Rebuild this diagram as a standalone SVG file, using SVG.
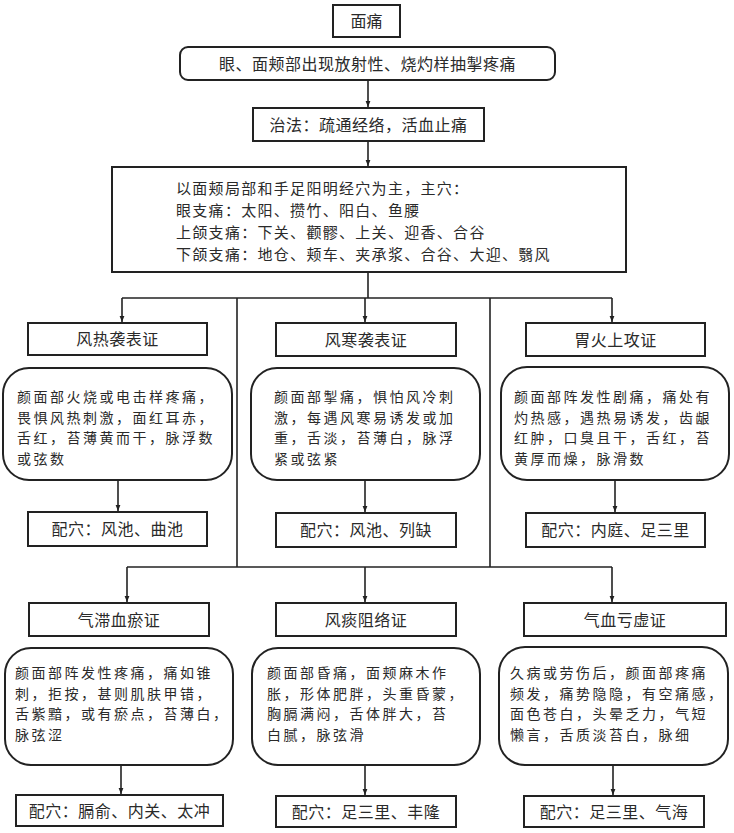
<svg xmlns="http://www.w3.org/2000/svg" width="734" height="833" viewBox="0 0 734 833">
<defs>
<marker id="ah" viewBox="0 0 10 10" refX="10" refY="5" markerWidth="6" markerHeight="9" orient="auto" markerUnits="userSpaceOnUse">
<path d="M0,1 L10,5 L0,9 Z" fill="#222"/>
</marker>
<style>
rect{fill:#fff;stroke:#222;stroke-width:2}
text{font-family:"Noto Sans CJK SC","Noto Sans CJK JP",sans-serif;font-size:16px;fill:#2a2a2a}
.c{text-anchor:middle}
.b{letter-spacing:0.5px}
.m{font-size:14px;letter-spacing:2.5px}
.p{font-size:15px;letter-spacing:1.3px}
.ln{fill:none;stroke:#222;stroke-width:1.6}
.ar{fill:none;stroke:#222;stroke-width:1.6;marker-end:url(#ah)}
</style>
</defs>
<rect x="0" y="0" width="734" height="833" style="fill:#fff;stroke:none"/>
<g id="connectors">
<line class="ar" x1="368" y1="80" x2="368" y2="107"/>
<line class="ar" x1="368" y1="141" x2="368" y2="166"/>
<line class="ln" x1="368" y1="272" x2="368" y2="298"/>
<line class="ln" x1="122" y1="298" x2="612" y2="298"/>
<line class="ar" x1="122" y1="298" x2="122" y2="322"/>
<line class="ar" x1="365" y1="298" x2="365" y2="322"/>
<line class="ar" x1="612" y1="298" x2="612" y2="322"/>
<line class="ln" x1="237" y1="298" x2="237" y2="567"/>
<line class="ln" x1="490" y1="298" x2="490" y2="567"/>
<line class="ln" x1="127" y1="567" x2="612" y2="567"/>
<line class="ar" x1="127" y1="567" x2="127" y2="602"/>
<line class="ar" x1="365" y1="567" x2="365" y2="602"/>
<line class="ar" x1="612" y1="567" x2="612" y2="602"/>
<line class="ar" x1="118" y1="480" x2="118" y2="511"/>
<line class="ar" x1="365" y1="480" x2="365" y2="512"/>
<line class="ar" x1="615" y1="480" x2="615" y2="512"/>
<line class="ar" x1="121" y1="765" x2="121" y2="794"/>
<line class="ar" x1="365" y1="765" x2="365" y2="795"/>
<line class="ar" x1="613" y1="765" x2="613" y2="795"/>
</g>
<g id="n-title">
<rect x="333" y="5" width="67" height="32"/>
<text class="c" x="366.5" y="27">面痛</text>
</g>
<g id="n-symptom">
<rect x="180" y="47" width="375" height="33" rx="8"/>
<text class="c b" x="367.5" y="69.5">眼、面颊部出现放射性、烧灼样抽掣疼痛</text>
</g>
<g id="n-method">
<rect x="253" y="108" width="231" height="33"/>
<text class="c b" x="368.5" y="130.5">治法：疏通经络，活血止痛</text>
</g>
<g id="n-points">
<rect x="112" y="167" width="514" height="105"/>
<text class="p" x="176" y="194"><tspan x="176" y="193.5">以面颊局部和手足阳明经穴为主，主穴：</tspan><tspan x="176" y="215.5">眼支痛：太阳、攒竹、阳白、鱼腰</tspan><tspan x="176" y="237.5">上颌支痛：下关、颧髎、上关、迎香、合谷</tspan><tspan x="176" y="259.5">下颌支痛：地仓、颊车、夹承浆、合谷、大迎、翳风</tspan></text>
</g>
<g id="n-fengre">
<rect x="28" y="323" width="179" height="32"/>
<text class="c b" x="117.5" y="345">风热袭表证</text>
</g>
<g id="n-fengre-sx">
<rect x="3" y="368" width="229" height="112" rx="26"/>
<text class="m" x="17" y="402"><tspan x="17" y="402">颜面部火烧或电击样疼痛，</tspan><tspan x="17" y="422.5">畏惧风热刺激，面红耳赤，</tspan><tspan x="17" y="443">舌红，苔薄黄而干，脉浮数</tspan><tspan x="17" y="463.5">或弦数</tspan></text>
</g>
<g id="n-fengre-pt">
<rect x="28" y="512" width="179" height="34"/>
<text class="c b" x="117.5" y="535">配穴：风池、曲池</text>
</g>
<g id="n-fenghan">
<rect x="276" y="323" width="180" height="33"/>
<text class="c b" x="366" y="345.5">风寒袭表证</text>
</g>
<g id="n-fenghan-sx">
<rect x="251" y="368" width="229" height="112" rx="26"/>
<text class="m" x="274" y="402"><tspan x="274" y="402">颜面部掣痛，惧怕风冷刺</tspan><tspan x="274" y="422.5">激，每遇风寒易诱发或加</tspan><tspan x="274" y="443">重，舌淡，苔薄白，脉浮</tspan><tspan x="274" y="463.5">紧或弦紧</tspan></text>
</g>
<g id="n-fenghan-pt">
<rect x="276" y="513" width="180" height="34"/>
<text class="c b" x="366" y="536">配穴：风池、列缺</text>
</g>
<g id="n-weihuo">
<rect x="526" y="323" width="179" height="33"/>
<text class="c b" x="615.5" y="345.5">胃火上攻证</text>
</g>
<g id="n-weihuo-sx">
<rect x="501" y="367" width="228" height="113" rx="26"/>
<text class="m" x="514" y="402"><tspan x="514" y="402">颜面部阵发性剧痛，痛处有</tspan><tspan x="514" y="422.5">灼热感，遇热易诱发，齿龈</tspan><tspan x="514" y="443">红肿，口臭且干，舌红，苔</tspan><tspan x="514" y="463.5">黄厚而燥，脉滑数</tspan></text>
</g>
<g id="n-weihuo-pt">
<rect x="526" y="513" width="179" height="34"/>
<text class="c b" x="615.5" y="536">配穴：内庭、足三里</text>
</g>
<g id="n-qizhi">
<rect x="29" y="603" width="180" height="33"/>
<text class="c b" x="119" y="625.5">气滞血瘀证</text>
</g>
<g id="n-qizhi-sx">
<rect x="5" y="648" width="228" height="117" rx="26"/>
<text class="m" x="15" y="678"><tspan x="15" y="678">颜面部阵发性疼痛，痛如锥</tspan><tspan x="15" y="698.5">刺，拒按，甚则肌肤甲错，</tspan><tspan x="15" y="719">舌紫黯，或有瘀点，苔薄白，</tspan><tspan x="15" y="740">脉弦涩</tspan></text>
</g>
<g id="n-qizhi-pt">
<rect x="16" y="795" width="207" height="31"/>
<text class="c b" x="119.5" y="816.5">配穴：膈俞、内关、太冲</text>
</g>
<g id="n-fengtan">
<rect x="276" y="603" width="180" height="33"/>
<text class="c b" x="366" y="625.5">风痰阻络证</text>
</g>
<g id="n-fengtan-sx">
<rect x="252" y="648" width="228" height="117" rx="26"/>
<text class="m" x="267" y="678"><tspan x="267" y="678">颜面部昏痛，面颊麻木作</tspan><tspan x="267" y="698.5">胀，形体肥胖，头重昏蒙，</tspan><tspan x="267" y="719">胸膈满闷，舌体胖大，苔</tspan><tspan x="267" y="740">白腻，脉弦滑</tspan></text>
</g>
<g id="n-fengtan-pt">
<rect x="276" y="796" width="180" height="31"/>
<text class="c b" x="366" y="817.5">配穴：足三里、丰隆</text>
</g>
<g id="n-qixue">
<rect x="524" y="603" width="202" height="33"/>
<text class="c b" x="625" y="625.5">气血亏虚证</text>
</g>
<g id="n-qixue-sx">
<rect x="499" y="647" width="229" height="118" rx="26"/>
<text class="m" x="510" y="678"><tspan x="510" y="678">久病或劳伤后，颜面部疼痛</tspan><tspan x="510" y="698.5">频发，痛势隐隐，有空痛感，</tspan><tspan x="510" y="719">面色苍白，头晕乏力，气短</tspan><tspan x="510" y="740">懒言，舌质淡苔白，脉细</tspan></text>
</g>
<g id="n-qixue-pt">
<rect x="524" y="796" width="180" height="31"/>
<text class="c b" x="614" y="817.5">配穴：足三里、气海</text>
</g>
</svg>
